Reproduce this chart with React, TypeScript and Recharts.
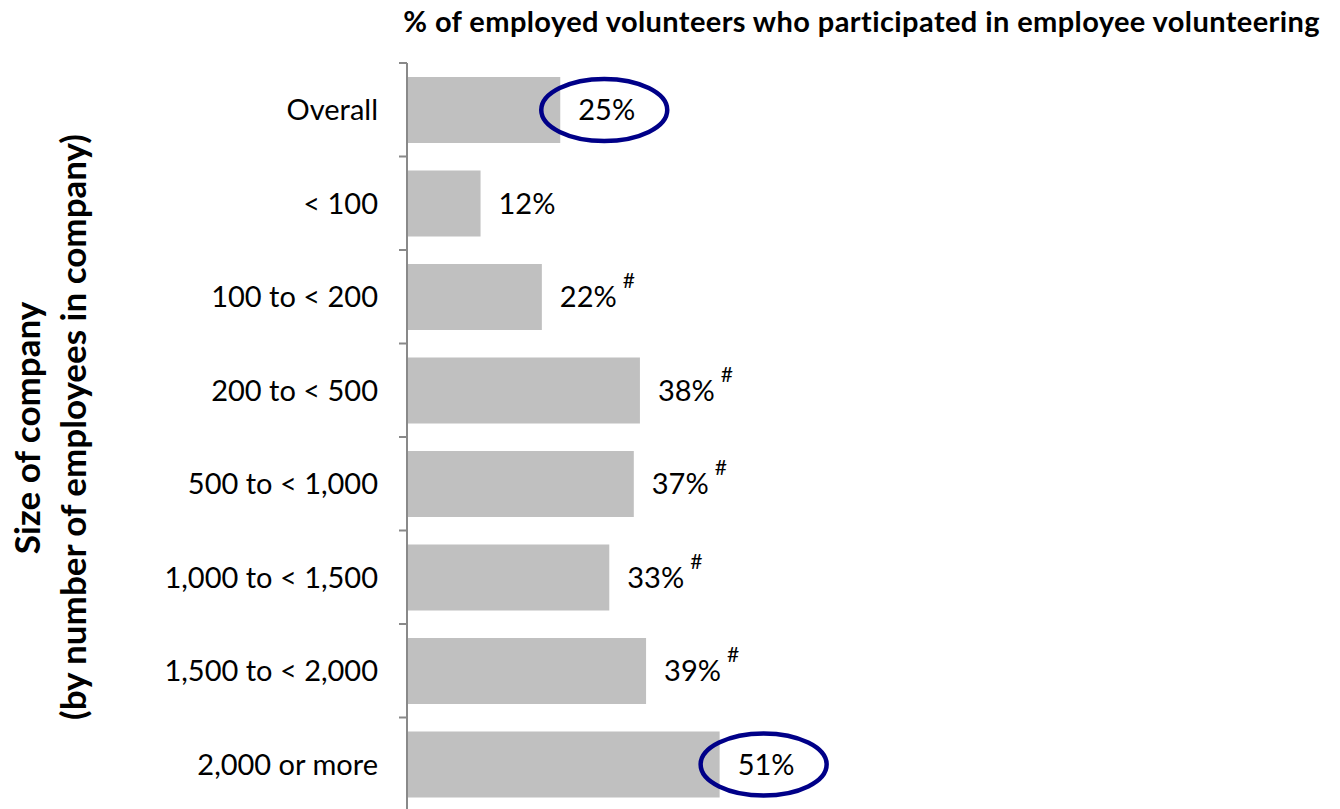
import React from "react";
import { BarChart, Bar, XAxis, YAxis, LabelList } from "recharts";

const categories = [
  "Overall",
  "< 100",
  "100 to < 200",
  "200 to < 500",
  "500 to < 1,000",
  "1,000 to < 1,500",
  "1,500 to < 2,000",
  "2,000 or more",
];
const values = [25, 12, 22, 38, 37, 33, 39, 51];
// "#" marks a significant difference from the < 100 group
const significant = [false, false, true, true, true, true, true, false];
const circled = [true, false, false, false, false, false, false, true];

const chartTitle =
  "% of employed volunteers who participated in employee volunteering";
const axisTitle = ["Size of company", "(by number of employees in company)"];

const data = categories.map((name, i) => ({ name, value: values[i] }));

const WIDTH = 1340;
const HEIGHT = 811;
const TOP = 63;
const STEP = (HEIGHT - TOP) / categories.length;
const FONT = "Lato, 'Open Sans', sans-serif";
const AXIS_GREY = "#898989";

const CategoryTick = ({ x, y, payload }: any) => (
  <g>
    <line
      x1={x}
      x2={x + 8}
      y1={y - STEP / 2}
      y2={y - STEP / 2}
      stroke={AXIS_GREY}
      strokeWidth={2}
    />
    <text
      x={x - 21}
      y={y + 10.5}
      textAnchor="end"
      fontSize={29}
      fontFamily={FONT}
      fill="#000"
    >
      {payload.value}
    </text>
  </g>
);

const ValueLabel = (props: any) => {
  const { x, y, width, height, index, value } = props;
  const endX = Number(x) + Number(width);
  const cy = Number(y) + Number(height) / 2;
  const tx = endX + 18;
  return (
    <g>
      {circled[index] && (
        <ellipse
          cx={tx + 26}
          cy={cy}
          rx={63}
          ry={31}
          fill="none"
          stroke="#000088"
          strokeWidth={4.5}
        />
      )}
      <text x={tx} y={cy + 10} fontSize={29} fontFamily={FONT} fill="#000">
        {value}%
        {significant[index] && (
          <tspan dx={6} dy={-19} fontSize={21}>
            #
          </tspan>
        )}
      </text>
    </g>
  );
};

export default function App() {
  return (
    <div
      style={{
        position: "absolute",
        left: 0,
        top: 0,
        width: WIDTH,
        height: 809,
        overflow: "hidden",
        background: "#fff",
      }}
    >
      <BarChart
        width={WIDTH}
        height={HEIGHT}
        data={data}
        layout="vertical"
        margin={{ top: TOP, right: 320, left: 0, bottom: 0 }}
      >
        <XAxis type="number" domain={[0, 100]} hide />
        <YAxis
          type="category"
          dataKey="name"
          width={407}
          axisLine={{ stroke: AXIS_GREY, strokeWidth: 2 }}
          tickLine={false}
          tickSize={8}
          tickMargin={0}
          tick={<CategoryTick />}
          interval={0}
        />
        <Bar
          dataKey="value"
          fill="#c0c0c0"
          barSize={66}
          isAnimationActive={false}
        >
          <LabelList dataKey="value" content={<ValueLabel />} />
        </Bar>
      </BarChart>
      <svg
        width={WIDTH}
        height={809}
        style={{ position: "absolute", left: 0, top: 0, pointerEvents: "none" }}
      >
        <text
          x={1320}
          y={32}
          textAnchor="end"
          fontSize={29}
          letterSpacing={0.4}
          fontWeight="bold"
          fontFamily={FONT}
          fill="#000"
        >
          {chartTitle}
        </text>
        <text
          transform="translate(40,428) rotate(-90)"
          textAnchor="middle"
          fontSize={35}
          fontWeight="bold"
          fontFamily={FONT}
          fill="#000"
        >
          {axisTitle[0]}
        </text>
        <text
          transform="translate(86,427) rotate(-90)"
          textAnchor="middle"
          fontSize={35}
          fontWeight="bold"
          fontFamily={FONT}
          fill="#000"
        >
          {axisTitle[1]}
        </text>
      </svg>
    </div>
  );
}
